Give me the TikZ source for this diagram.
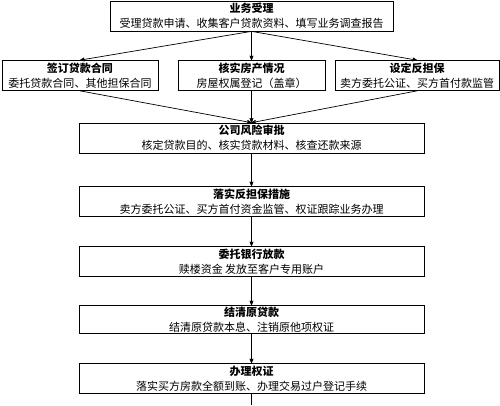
\documentclass[tikz,border=0pt]{standalone}
\usepackage{fontspec}
\setmainfont{Noto Sans CJK SC}
\usetikzlibrary{arrows}

\begin{document}
\begin{tikzpicture}[->,>=stealth',x=1pt,y=-1pt,line width=0.7pt,
	stage node/.style={rectangle,draw,align=center,inner sep=1pt,minimum height=30pt,
		font=\fontsize{11}{15}\selectfont}]
	\useasboundingbox (0,0) rectangle (500,405);

	\node[stage node,minimum width=283pt] (accept) at (251.5,16) {\textbf{业务受理}\\受理贷款申请、收集客户贷款资料、填写业务调查报告};
	\node[stage node,minimum width=156pt] (contract) at (80,75.5) {\textbf{签订贷款合同}\\委托贷款合同、其他担保合同};
	\node[stage node,minimum width=147pt] (property) at (251.5,75.5) {\textbf{核实房产情况}\\房屋权属登记（盖章）};
	\node[stage node,minimum width=164pt] (guarantee) at (417,75.5) {\textbf{设定反担保}\\卖方委托公证、买方首付款监管};
	\node[stage node,minimum width=345pt] (risk) at (251.5,138) {\textbf{公司风险审批}\\核定贷款目的、核实贷款材料、核查还款来源};
	\node[stage node,minimum width=345pt] (measure) at (251.5,201.5) {\textbf{落实反担保措施}\\卖方委托公证、买方首付资金监管、权证跟踪业务办理};
	\node[stage node,minimum width=345pt] (release) at (251.5,261.5) {\textbf{委托银行放款}\\赎楼资金 发放至客户专用账户};
	\node[stage node,minimum width=345pt,minimum height=28pt] (settle) at (251.5,319.5) {\textbf{结清原贷款}\\结清原贷款本息、注销原他项权证};
	\node[stage node,minimum width=345pt] (title) at (251.5,378.5) {\textbf{办理权证}\\落实买方房款全额到账、办理交易过户登记手续};
	\coordinate (tail) at (251.5,405);

	\path
	(accept.south) edge (contract.north)
	(accept.south) edge (property.north)
	(accept.south) edge (guarantee.north)
	(contract.south) edge (risk.north)
	(property.south) edge (risk.north)
	(guarantee.south) edge (risk.north)
	(risk) edge (measure)
	(measure) edge (release)
	(release) edge (settle)
	(settle) edge (title)
	(title) edge[-] (tail);
\end{tikzpicture}
\end{document}
